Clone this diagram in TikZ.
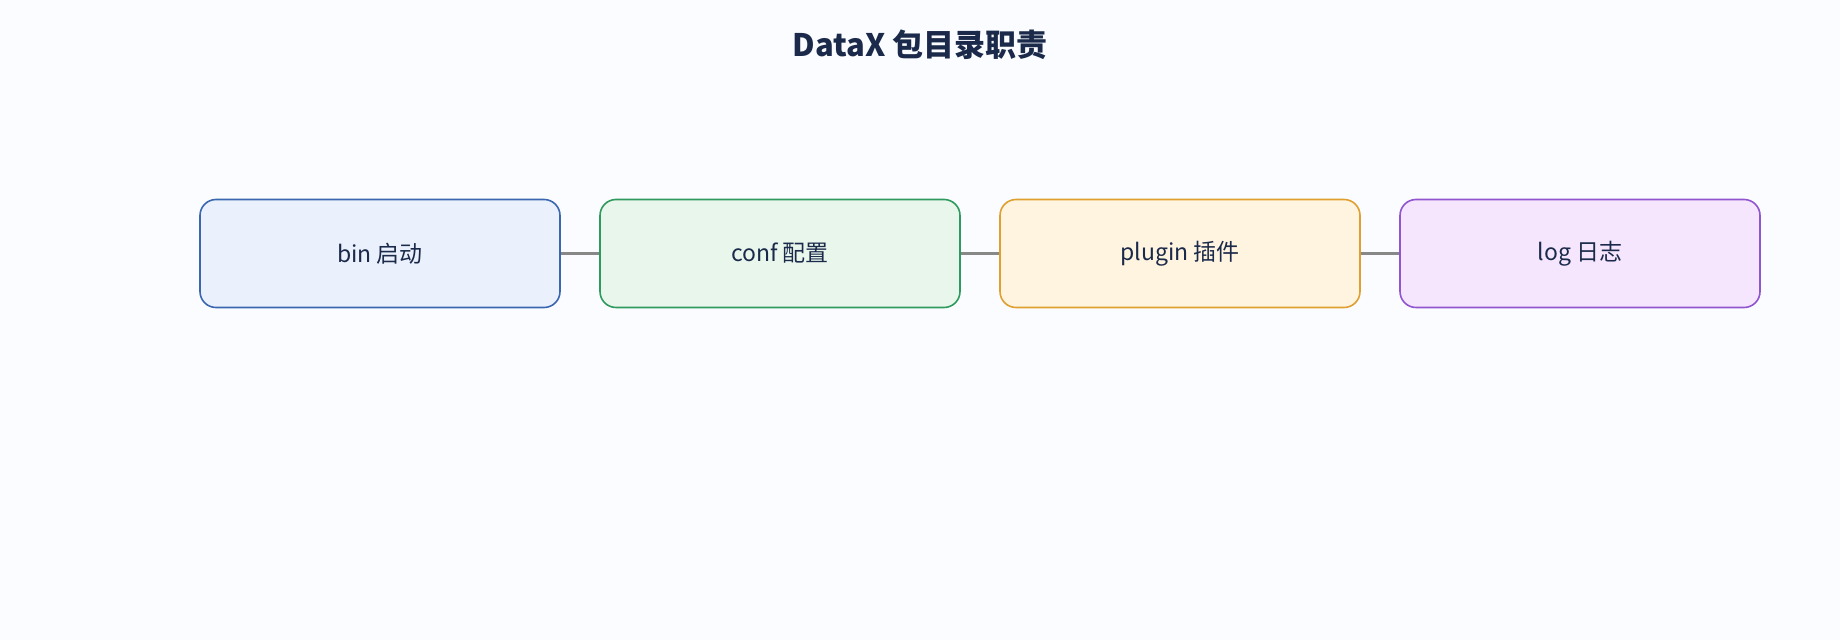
\documentclass[tikz,border=0pt]{standalone}
\usepackage{fontspec}
\setmainfont{Noto Sans CJK SC}
\definecolor{bgc}{HTML}{FAFCFF}
\definecolor{ink}{HTML}{1B2A4A}
\definecolor{linec}{HTML}{888888}
\definecolor{binfill}{HTML}{EAF1FC}
\definecolor{bindraw}{HTML}{3B67B0}
\definecolor{conffill}{HTML}{E9F6EC}
\definecolor{confdraw}{HTML}{2E9A5E}
\definecolor{plugfill}{HTML}{FFF4E0}
\definecolor{plugdraw}{HTML}{E0A030}
\definecolor{logfill}{HTML}{F5E6FD}
\definecolor{logdraw}{HTML}{9055CF}
\tikzset{
  dir/.style={draw, rounded corners=8pt, line width=0.8pt, minimum width=180pt, minimum height=54pt, text=ink, font=\fontsize{11.5}{13}\selectfont},
}
\begin{document}
\begin{tikzpicture}[x=0.5pt,y=-0.5pt]
  \fill[bgc] (0,0) rectangle (1840,640);
  \useasboundingbox (0,0) rectangle (1840,640);
  \node[text=ink, font=\fontsize{15.5}{18}\selectfont\bfseries] (title) at (920,45) {DataX 包目录职责};

  \node[dir, fill=binfill, draw=bindraw] (bin) at (380,253.5) {bin 启动};
  \node[dir, fill=conffill, draw=confdraw] (conf) at (780,253.5) {conf 配置};
  \node[dir, fill=plugfill, draw=plugdraw] (plugin) at (1180,253.5) {plugin 插件};
  \node[dir, fill=logfill, draw=logdraw] (log) at (1580,253.5) {log 日志};

  \draw[linec, line width=1.5pt] (bin) -- (conf);
  \draw[linec, line width=1.5pt] (conf) -- (plugin);
  \draw[linec, line width=1.5pt] (plugin) -- (log);
\end{tikzpicture}
\end{document}
